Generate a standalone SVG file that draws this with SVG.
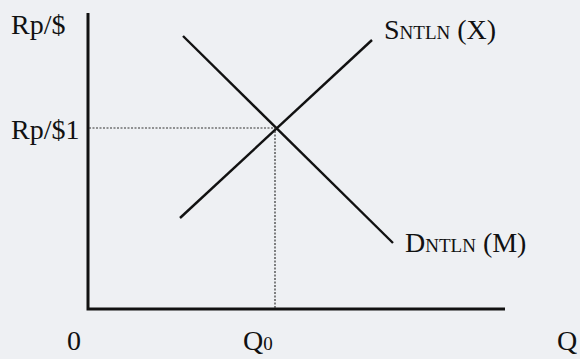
<svg xmlns="http://www.w3.org/2000/svg" width="580" height="359" viewBox="0 0 580 359">
<style>
.t{font-family:"Liberation Serif","Times New Roman",serif;fill:#111;font-size:28px}
.s{font-size:19px}
.ax{stroke:#111;stroke-width:3;fill:none}
.ln{stroke:#111;stroke-width:2.4;fill:none}
.dt{stroke:#333;stroke-width:1.2;stroke-dasharray:2,1.5;fill:none}
</style>
<rect width="580" height="359" fill="#eef0f3"/>
<g id="axes">
<path class="ax" d="M88,13 V309 H505"/>
</g>
<g id="connectors">
<path class="ln" d="M180,218 L372,40"/>
<path class="ln" d="M183,36 L393,243"/>
<path class="dt" d="M89,128 H275 V308"/>
</g>
<g id="labels">
<text class="t" x="11" y="34">Rp/$</text>
<text class="t" x="11" y="139">Rp/$1</text>
<text class="t" x="384" y="39">S<tspan class="s">NTLN</tspan> (X)</text>
<text class="t" x="405" y="252">D<tspan class="s">NTLN</tspan> (M)</text>
<text class="t" x="67" y="350">0</text>
<text class="t" x="243" y="350">Q<tspan class="s">0</tspan></text>
<text class="t" x="557" y="350">Q</text>
</g>
</svg>
